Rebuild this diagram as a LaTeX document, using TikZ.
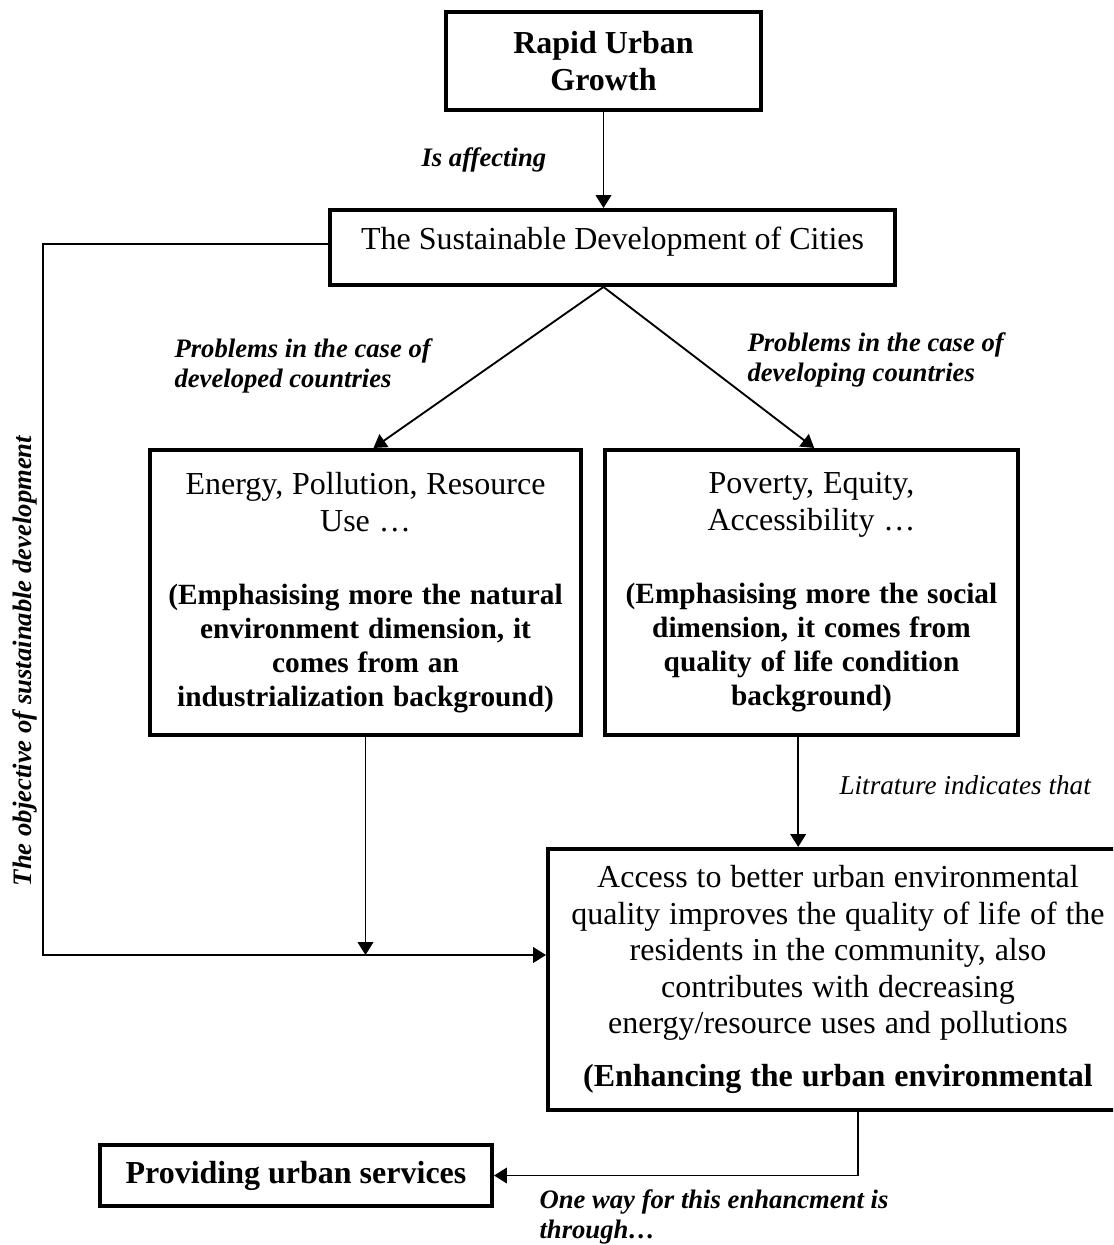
\documentclass[tikz,border=0pt]{standalone}
\usepackage{fontspec}
\setmainfont{Liberation Serif}
\usetikzlibrary{arrows.meta, positioning, calc}

\begin{document}
\begin{tikzpicture}[x=0.375pt, y=-0.375pt,
        box/.style={draw, line width=1.5pt, inner sep=0pt, align=center},
        conn/.style={line width=0.7pt, -{Triangle[length=4.8pt,width=5.8pt]}},
        lbl/.style={font=\fontsize{10}{11.5}\selectfont\bfseries\itshape, inner sep=0pt, align=left}]
    \path[use as bounding box, clip] (0,0) rectangle (1113,1245);

    \node[box, minimum width=118.1pt, minimum height=36.7pt, font=\fontsize{12}{13.9}\selectfont\bfseries] (rug) at (603.5,61) {Rapid Urban\\Growth};
    \node[box, minimum width=211.9pt, text height=14.7pt, text depth=13.4pt, font=\fontsize{12}{13.9}\selectfont] (sdc) at (612.5,247.5) {The Sustainable Development of Cities};
    \node[box, minimum width=161.6pt, minimum height=106.9pt, text width=158pt] (env) at (365.5,592.5) {{\fontsize{12}{13.9}\selectfont Energy, Pollution, Resource\\Use …\par}\vspace{14.6pt}{\fontsize{11}{12.75}\selectfont\bfseries (Emphasising more the natural\\environment dimension, it\\comes from an\\industrialization background)\par}};
    \node[box, minimum width=154.9pt, minimum height=106.9pt, text width=152pt] (pov) at (811.5,592.5) {{\fontsize{12}{13.9}\selectfont Poverty, Equity,\\Accessibility …\par}\vspace{14.6pt}{\fontsize{11}{12.75}\selectfont\bfseries (Emphasising more the social\\dimension, it comes from\\quality of life condition\\background)\par}};
    \node[box, minimum width=217.5pt, minimum height=97.9pt, text width=212pt] (acc) at (838,979.5) {{\fontsize{12}{13.7}\selectfont Access to better urban environmental\\quality improves the quality of life of the\\residents in the community, also\\contributes with decreasing\\energy/resource uses and pollutions\par}\vspace{6pt}{\fontsize{12}{13.7}\selectfont\bfseries (Enhancing the urban environmental\par}};
    \node[box, minimum width=147pt, minimum height=22.9pt, font=\fontsize{12}{13.9}\selectfont\bfseries] (srv) at (296,1175.5) {Providing urban services};

    \node[lbl, anchor=west] (aff) at (421,160) {Is affecting};
    \node[lbl, anchor=west] (pdd) at (174,366) {Problems in the case of\\developed countries};
    \node[lbl, anchor=west] (pdg) at (747,360) {Problems in the case of\\developing countries};
    \node[lbl, anchor=west, font=\fontsize{10.2}{11.7}\selectfont\itshape] (lit) at (839,785) {Litrature indicates that};
    \node[lbl, anchor=west] (owe) at (539,1217) {One way for this enhancment is\\through…};
    \node[lbl, rotate=90] (obj) at (25,661) {The objective of sustainable development};

    \coordinate (apex) at (rug.south |- sdc.south);
    \coordinate (corner) at (43,955);
    \draw[conn] (rug.south) -- (rug.south |- sdc.north);
    \draw[conn] (apex) -- ([xshift=3pt]env.north);
    \draw[conn] (apex) -- ([xshift=1pt]pov.north);
    \draw[conn] ([yshift=1.3pt]sdc.west) -| (corner) -- (acc.west |- corner);
    \draw[conn] (env.south) -- (env.south |- corner);
    \draw[conn] ([xshift=-5pt]pov.south) -- ([xshift=-5pt]pov.south |- acc.north);
    \draw[conn] ([xshift=7.5pt]acc.south) |- (srv.east);
\end{tikzpicture}
\end{document}
